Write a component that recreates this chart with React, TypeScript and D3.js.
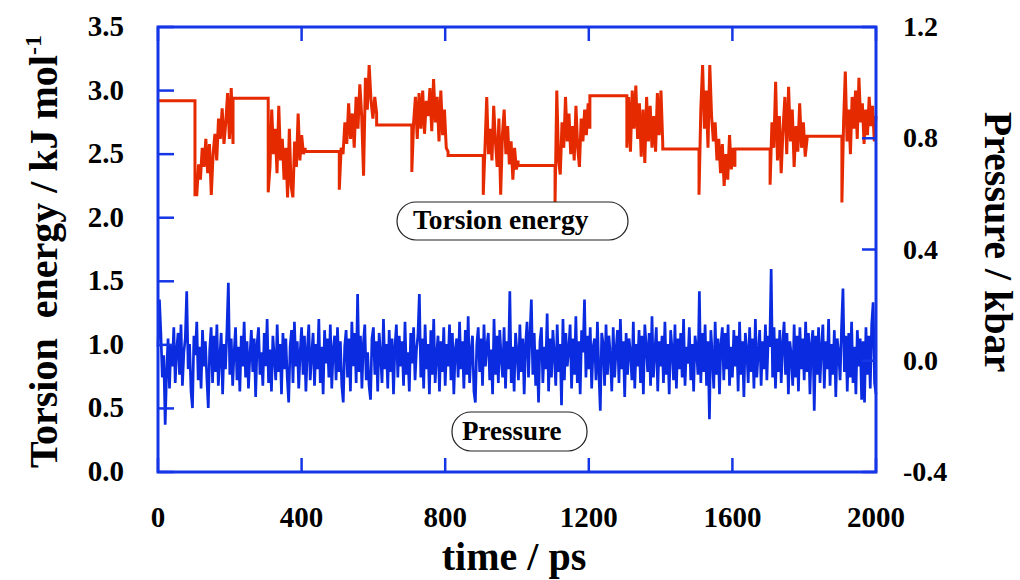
import React from 'react';
import * as d3 from 'd3';

// ---------- data ----------
const xTicks = [0, 400, 800, 1200, 1600, 2000];
const leftTicks = [0, 0.5, 1.0, 1.5, 2.0, 2.5, 3.0, 3.5];
const rightTicks = [-0.4, 0.0, 0.4, 0.8, 1.2];

// torsion energy: plateaus (kJ/mol) and noisy stretches in between
const plateauStart = [0, 209, 410, 609, 808, 1003, 1203, 1406, 1607, 1808];
const plateauEnd = [103, 307, 505, 707, 906, 1106, 1306, 1507, 1705, 1905];
const plateauValue = [2.92, 2.94, 2.52, 2.73, 2.49, 2.41, 2.96, 2.54, 2.54, 2.64];

const noisy1 = [2.18, 2.18, 2.42, 2.30, 2.55, 2.40, 2.62, 2.35, 2.58, 2.18, 2.50, 2.66, 2.45, 2.78, 2.62, 2.86, 2.58, 2.75, 2.98, 2.62, 3.02, 2.58];
const noisy2 = [2.20, 2.40, 2.85, 2.50, 2.70, 2.35, 2.88, 2.45, 2.62, 2.30, 2.55, 2.16, 2.70, 2.25, 2.16, 2.60, 2.40, 2.82, 2.45, 2.65, 2.50, 2.55];
const noisy3 = [2.22, 2.55, 2.50, 2.75, 2.58, 2.90, 2.62, 2.82, 2.55, 2.95, 2.70, 3.05, 2.80, 2.33, 3.10, 2.85, 3.20, 2.92, 2.78, 2.95, 2.82];
const noisy4 = [2.36, 2.75, 2.95, 2.62, 2.98, 2.70, 3.00, 2.66, 2.92, 2.80, 3.02, 2.68, 3.09, 2.75, 2.95, 2.60, 3.00, 2.65, 2.85, 2.55, 2.52];
const noisy5 = [2.18, 2.55, 2.95, 2.50, 2.70, 2.45, 2.88, 2.60, 2.40, 2.78, 2.18, 2.65, 2.85, 2.50, 2.72, 2.42, 2.60, 2.30, 2.55, 2.38, 2.45];
const noisy6 = [2.12, 3.00, 2.45, 2.34, 2.75, 2.55, 2.95, 2.60, 2.82, 2.50, 2.72, 2.45, 2.88, 2.55, 2.40, 2.78, 2.60, 2.85, 2.65, 2.90, 2.70];
const noisy7 = [2.55, 2.95, 2.52, 3.00, 2.70, 3.04, 2.62, 2.90, 2.48, 2.85, 2.43, 2.95, 2.60, 2.88, 2.55, 2.80, 2.52, 2.98, 2.65, 3.00, 2.58];
const noisy8 = [2.18, 2.85, 3.20, 2.70, 3.00, 2.55, 3.20, 2.80, 2.60, 2.75, 2.45, 2.62, 2.35, 2.58, 2.25, 2.50, 2.30, 2.65, 2.38, 2.55, 2.40];
const noisy9 = [2.26, 2.75, 2.55, 3.07, 2.45, 2.80, 2.35, 2.70, 2.95, 2.50, 3.03, 2.60, 2.85, 2.40, 2.72, 2.52, 2.90, 2.55, 2.75, 2.48, 2.62];
const noisy10 = [2.12, 2.75, 3.15, 2.60, 2.85, 2.50, 2.95, 2.70, 3.00, 2.62, 3.10, 2.75, 2.90, 2.58, 2.85, 2.65, 2.95, 2.72, 2.88, 2.60, 2.80];
const noisySegments = [noisy1, noisy2, noisy3, noisy4, noisy5, noisy6, noisy7, noisy8, noisy9, noisy10];

// pressure (kbar), sampled every 4 ps
const pressureStep = 4;
const pressure = [
  0.05, 0.22, 0.10, -0.06, 0.02, -0.23, -0.04, 0.08, -0.10, 0.06,
  -0.02, 0.12, -0.08, 0.04, 0.10, -0.05, 0.13, -0.09, 0.03, 0.08,
  0.25, -0.03, 0.06, -0.11, -0.17, 0.09, 0.02, 0.14, -0.07, 0.05,
  -0.10, 0.11, -0.02, 0.07, -0.06, -0.17, 0.04, 0.12, -0.08, 0.09,
  -0.04, 0.13, -0.09, 0.01, 0.10, -0.12, 0.06, -0.03, 0.11, 0.28,
  -0.05, 0.08, -0.09, 0.03, 0.12, -0.07, 0.05, -0.11, 0.09, -0.02,
  0.14, -0.06, 0.07, -0.10, 0.02, 0.11, -0.04, 0.08, -0.13, 0.06,
  0.12, -0.05, 0.03, -0.09, 0.10, -0.02, 0.15, -0.08, 0.04, -0.11,
  0.09, 0.01, -0.07, 0.13, -0.04, 0.06, -0.12, 0.10, -0.03, 0.08,
  -0.06, -0.15, 0.05, 0.11, -0.08, 0.14, -0.02, 0.07, -0.10, 0.03,
  0.12, -0.05, 0.09, -0.11, 0.04, 0.13, -0.07, 0.02, 0.10, -0.09,
  0.06, -0.03, 0.15, -0.08, 0.05, -0.12, 0.11, -0.01, 0.08, -0.06,
  0.13, -0.10, 0.04, 0.09, -0.07, 0.12, -0.04, 0.07, -0.09, -0.15,
  0.05, 0.11, -0.06, 0.08, -0.11, 0.14, -0.02, 0.10, -0.08, 0.24,
  -0.04, 0.09, -0.10, 0.06, 0.13, -0.07, 0.03, -0.09, -0.14, 0.08,
  0.12, -0.05, 0.07, -0.11, 0.10, 0.02, -0.08, 0.15, -0.03, 0.06,
  -0.10, 0.11, -0.04, 0.08, -0.12, 0.05, 0.13, -0.06, 0.09, -0.02,
  0.07, -0.09, 0.14, -0.05, 0.03, -0.11, 0.10, -0.01, 0.12, -0.07,
  0.04, 0.09, 0.24, -0.06, 0.08, -0.10, 0.13, -0.03, 0.06, -0.12,
  0.11, -0.05, 0.15, -0.08, 0.02, 0.09, -0.11, 0.07, -0.04, 0.12,
  -0.09, 0.06, -0.02, 0.13, -0.07, 0.10, -0.12, 0.04, 0.08, -0.06,
  0.14, -0.03, 0.07, -0.10, 0.11, -0.05, 0.16, -0.08, 0.03, 0.09,
  -0.11, -0.15, 0.06, 0.12, -0.04, 0.08, -0.09, 0.13, -0.02, 0.05,
  0.10, -0.07, 0.04, -0.12, 0.15, -0.05, 0.09, -0.08, 0.11, 0.01,
  -0.06, 0.12, -0.10, 0.07, -0.03, 0.25, -0.08, 0.05, -0.11, 0.10,
  0.03, -0.07, 0.13, -0.04, 0.08, -0.12, 0.06, 0.14, -0.06, 0.09,
  0.22, -0.05, 0.10, -0.09, 0.04, -0.15, 0.07, 0.12, -0.08, 0.05,
  -0.03, 0.17, -0.11, 0.08, -0.06, 0.11, 0.02, -0.09, 0.13, -0.04,
  0.06, -0.16, 0.15, -0.07, 0.10, -0.02, 0.04, 0.13, -0.10, 0.08,
  -0.05, 0.16, -0.08, 0.07, -0.12, 0.11, 0.03, 0.22, -0.06, 0.09,
  -0.03, 0.12, -0.10, 0.05, 0.08, -0.07, 0.14, -0.04, -0.18, 0.10,
  0.06, -0.09, 0.13, -0.05, 0.09, 0.02, -0.11, 0.12, -0.06, 0.04,
  0.11, -0.08, 0.15, -0.03, 0.07, -0.13, 0.10, -0.05, 0.08, 0.03,
  -0.07, 0.14, -0.10, 0.06, -0.02, 0.11, -0.08, 0.09, -0.12, 0.13,
  0.05, -0.04, 0.10, -0.09, 0.16, -0.06, 0.03, 0.12, -0.11, 0.07,
  -0.02, 0.09, -0.08, 0.14, -0.05, 0.06, -0.12, 0.11, 0.04, -0.07,
  0.13, -0.10, 0.08, -0.03, 0.10, -0.06, 0.15, -0.09, 0.05, -0.01,
  0.12, -0.07, 0.06, -0.11, 0.09, 0.04, -0.05, 0.25, -0.08, 0.10,
  -0.04, 0.13, -0.09, 0.07, -0.21, 0.11, 0.02, -0.10, 0.14, -0.05,
  0.08, -0.12, 0.06, 0.12, -0.07, 0.10, -0.03, 0.13, -0.09, 0.05,
  -0.06, 0.11, -0.02, 0.09, -0.11, 0.14, -0.05, 0.07, -0.13, 0.10,
  0.04, -0.08, 0.12, -0.04, 0.08, -0.10, 0.15, -0.06, 0.03, 0.11,
  -0.09, 0.07, -0.03, 0.13, -0.07, 0.09, 0.05, 0.33, -0.06, 0.12,
  -0.10, 0.08, -0.04, 0.11, -0.08, 0.06, 0.14, -0.05, 0.10, -0.12,
  0.07, 0.02, -0.09, 0.13, -0.06, 0.09, -0.11, 0.12, -0.03, 0.08,
  -0.07, 0.14, -0.04, 0.10, -0.12, 0.06, 0.11, -0.18, 0.09, -0.05,
  0.12, -0.08, 0.05, 0.13, -0.10, 0.07, -0.03, 0.15, -0.09, 0.06,
  -0.05, 0.11, -0.13, 0.08, 0.03, -0.07, 0.12, 0.26, -0.04, 0.09,
  -0.11, 0.10, -0.06, 0.14, -0.08, 0.05, -0.12, 0.11, -0.02, 0.08,
  -0.14, 0.07, -0.15, 0.12, -0.05, 0.09, -0.10, 0.13, 0.21, -0.08,
  -0.12,
];

// ---------- layout ----------
const W = 1020, H = 580;
const L = 158, R = 876, T = 27, B = 472;
const FRAME = '#1436e6';
const RED = '#e62a00';
const BLUE = '#0a2be0';
const FONT = "'Liberation Serif', 'Times New Roman', serif";

export default function App() {
  const x = d3.scaleLinear().domain([0, 2000]).range([L, R]);
  const yL = d3.scaleLinear().domain([0, 3.5]).range([B, T]);
  const yR = d3.scaleLinear().domain([-0.4, 1.2]).range([B, T]);

  // build torsion series
  const torsion: [number, number][] = [];
  plateauStart.forEach((s, i) => {
    torsion.push([s, plateauValue[i]]);
    torsion.push([plateauEnd[i], plateauValue[i]]);
    const seg = noisySegments[i];
    const a = plateauEnd[i];
    const b = i + 1 < plateauStart.length ? plateauStart[i + 1] : 2000;
    seg.forEach((v, j) => torsion.push([a + ((b - a) * j) / (seg.length - 1), v]));
  });

  const pressurePts: [number, number][] = pressure.map((v, i) => [i * pressureStep, v]);

  const lineL = d3.line<[number, number]>().x(d => x(d[0])).y(d => yL(d[1]));
  const lineR = d3.line<[number, number]>().x(d => x(d[0])).y(d => yR(d[1]));

  const tickFs = 29;

  return (
    <svg width={W} height={H} style={{ position: 'absolute', left: 0, top: 0, background: '#fff' }}
      fontFamily={FONT} fontWeight="bold">
      <rect x={0} y={0} width={W} height={H} fill="#fff" />
      {/* data */}
      <path d={lineR(pressurePts) || ''} fill="none" stroke={BLUE} strokeWidth={2.7} strokeLinejoin="miter" />
      <path d={lineL(torsion) || ''} fill="none" stroke={RED} strokeWidth={3} strokeLinejoin="miter" />

      {/* frame */}
      <rect x={L} y={T} width={R - L} height={B - T} fill="none" stroke={FRAME} strokeWidth={3} />

      {/* x ticks top & bottom */}
      {xTicks.map(t => (
        <g key={'xt' + t}>
          <line x1={x(t)} x2={x(t)} y1={T} y2={T + 14} stroke={FRAME} strokeWidth={2.5} />
          <line x1={x(t)} x2={x(t)} y1={B} y2={B - 14} stroke={FRAME} strokeWidth={2.5} />
          <text x={x(t)} y={527} textAnchor="middle" fontSize={tickFs} fill="#000">{t}</text>
        </g>
      ))}

      {/* left ticks */}
      {leftTicks.map(t => (
        <g key={'lt' + t}>
          <line x1={L} x2={L + 16} y1={yL(t)} y2={yL(t)} stroke={FRAME} strokeWidth={2.5} />
          <text x={124} y={yL(t) + 9} textAnchor="end" fontSize={tickFs} fill="#000">{t.toFixed(1)}</text>
        </g>
      ))}

      {/* right ticks */}
      {rightTicks.map(t => (
        <g key={'rt' + t}>
          <line x1={R} x2={R - 14} y1={yR(t)} y2={yR(t)} stroke={FRAME} strokeWidth={2.5} />
          <text x={903} y={yR(t) + 9} textAnchor="start" fontSize={tickFs - 1} fill="#000">{t.toFixed(1)}</text>
        </g>
      ))}

      {/* axis titles */}
      <text x={(L + R) / 2 - 3} y={570} textAnchor="middle" fontSize={40} fill="#000">time / ps</text>
      <text transform={`translate(57,${(T + B) / 2 + 2}) rotate(-90)`} textAnchor="middle" fontSize={40} fill="#000"
        xmlSpace="preserve">
        Torsion  energy / kJ mol<tspan fontSize={24} dy={-16}>-1</tspan>
      </text>
      <text transform={`translate(985,${242}) rotate(90)`} textAnchor="middle" fontSize={40} fill="#000">Pressure / kbar</text>

      {/* in-plot labels */}
      <rect x={397} y={202} width={231} height={38} rx={19} ry={19} fill="#fff" stroke="#222" strokeWidth={1.2} />
      <text x={413} y={229} fontSize={27.5} fill="#000">Torsion energy</text>
      <rect x={452} y={412} width={135} height={39} rx={19} ry={19} fill="#fff" stroke="#222" strokeWidth={1.2} />
      <text x={462} y={440} fontSize={27} fill="#000">Pressure</text>
    </svg>
  );
}
